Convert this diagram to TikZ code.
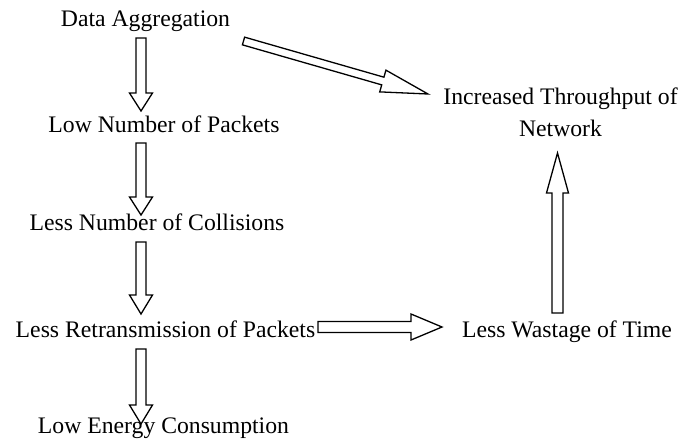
\documentclass[tikz,border=0pt]{standalone}
\usepackage{fontspec}
\setmainfont{Liberation Serif}
\usetikzlibrary{calc}
\tikzset{
  lbl/.style={inner sep=0pt, font=\fontsize{23.7}{32}\selectfont, align=center},
  barrow/.style={draw=black, fill=white, line width=1.3pt, line join=miter}
}
% #1 from, #2 to, #3 half shaft, #4 half head, #5 head length
\newcommand\blockarr[5]{%
  \coordinate (hb) at ($(#2)!#5!(#1)$);
  \draw[barrow] ($(#1)!#3!90:(#2)$) -- ($(hb)!#3!-90:(#1)$) -- ($(hb)!#4!-90:(#1)$) -- (#2)
    -- ($(hb)!#4!90:(#1)$) -- ($(hb)!#3!90:(#1)$) -- ($(#1)!#3!-90:(#2)$) -- cycle;
}
\begin{document}
\begin{tikzpicture}[x=1pt,y=-1pt]
\useasboundingbox (0,0) rectangle (698,439);
\node[lbl, anchor=base] (da) at (145.5,27) {Data Aggregation};
\node[lbl, anchor=base] (lnp) at (164,132) {Low Number of Packets};
\node[lbl, anchor=base] (lnc) at (157,230) {Less Number of Collisions};
\node[lbl, anchor=base] (lrp) at (165.5,337) {Less Retransmission of Packets};
\node[lbl, anchor=base] (lec) at (163.5,433) {Low Energy Consumption};
\node[lbl, anchor=center] (itn) at (560.5,112) {Increased Throughput of\\Network};
\node[lbl, anchor=base] (lwt) at (567,337) {Less Wastage of Time};
% arrow end points
\coordinate (a1s) at (141,38);  \coordinate (a1e) at (141,111);
\coordinate (a2s) at (141,143); \coordinate (a2e) at (141,215);
\coordinate (a3s) at (141,242); \coordinate (a3e) at (141,314);
\coordinate (a4s) at (141,349); \coordinate (a4e) at (141,424);
\coordinate (a5s) at (318,327); \coordinate (a5e) at (442,327);
\coordinate (a6s) at (557.5,313); \coordinate (a6e) at (557.5,153);
\coordinate (a7s) at (243.5,41); \coordinate (a7e) at (428,94);
\blockarr{a1s}{a1e}{5pt}{11.5pt}{18pt}
\blockarr{a2s}{a2e}{5pt}{11.5pt}{18pt}
\blockarr{a3s}{a3e}{5pt}{11.5pt}{19pt}
\blockarr{a4s}{a4e}{5pt}{11.5pt}{19pt}
\blockarr{a5s}{a5e}{5.5pt}{13pt}{31pt}
\blockarr{a6s}{a6e}{5.5pt}{11pt}{40pt}
\blockarr{a7s}{a7e}{4pt}{11.3pt}{47pt}
\end{tikzpicture}
\end{document}
